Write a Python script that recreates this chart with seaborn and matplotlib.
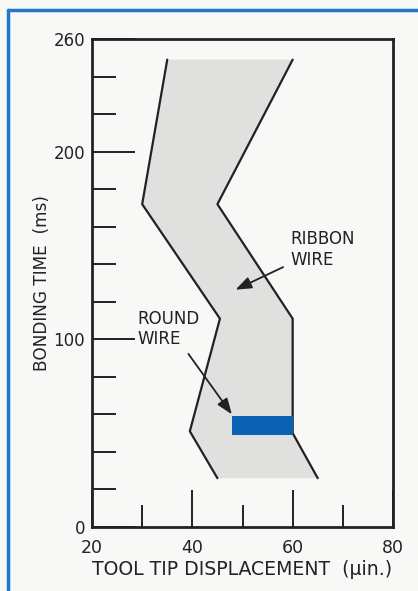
import matplotlib
matplotlib.use("Agg")
import matplotlib.pyplot as plt
from matplotlib.lines import Line2D
from matplotlib.patches import Rectangle
import seaborn as sns
import pandas as pd

# Ribbon-wire window boundaries (tool tip displacement in µin., bonding time in ms)
left_x = [35, 30, 45.5, 39.5, 45]
left_y = [249, 172, 111, 51, 26]
right_x = [60, 45, 60, 60, 65]
right_y = [249, 172, 111, 50, 26]

# Round-wire window
round_x = [48, 60]
round_y = [49, 59]

x_major = [20, 40, 60, 80]
x_minor = [30, 50, 70]
y_major = [0, 100, 200, 260]
y_minor = [20, 40, 60, 80, 120, 140, 160, 180, 220, 240]

sns.set_theme(style="white")
plt.rcParams["font.family"] = ["DejaVu Sans"]

BG = "#f8f8f6"
INK = "#222222"
BLUE = "#1f78c8"
FS = 12

fig = plt.figure(figsize=(4.18, 5.91), dpi=100, facecolor=BG)
ax = fig.add_axes([0.2201, 0.1083, 0.7201, 0.8257], facecolor=BG)

# shaded region
poly_x = left_x + right_x[::-1]
poly_y = left_y + right_y[::-1]
ax.fill(poly_x, poly_y, color="#e0e0df", lw=0, zorder=1)

# boundary lines
left_df = pd.DataFrame({"x": left_x, "y": left_y})
right_df = pd.DataFrame({"x": right_x, "y": right_y})
for df in (left_df, right_df):
    sns.lineplot(data=df, x="x", y="y", sort=False, estimator=None, ax=ax,
                 color=INK, lw=1.6, zorder=3)

# round wire block
ax.add_patch(Rectangle((round_x[0], round_y[0]), round_x[1] - round_x[0],
                       round_y[1] - round_y[0], facecolor="#0b62b4",
                       edgecolor="none", zorder=4))

ax.set_xlim(20, 80)
ax.set_ylim(0, 260)

ax.set_xticks(x_major)
ax.set_xticks(x_minor, minor=True)
ax.set_yticks(y_major)
ax.set_yticks(y_minor, minor=True)
ax.set_xticklabels([str(v) for v in x_major])
ax.set_yticklabels([str(v) for v in y_major])

ax.tick_params(axis="y", which="major", direction="in", length=31, width=1.4,
               color=INK, labelsize=FS, labelcolor=INK, pad=5)
ax.tick_params(axis="y", which="minor", direction="in", length=17, width=1.4,
               color=INK, left=True)
ax.tick_params(axis="x", which="major", direction="in", length=27, width=1.4,
               color=INK, labelsize=12.5, labelcolor=INK, pad=9)
ax.tick_params(axis="x", which="minor", direction="in", length=16, width=1.4,
               color=INK, bottom=True)
ax.tick_params(left=True, bottom=True)

for s in ax.spines.values():
    s.set_color(INK)
    s.set_linewidth(2)

ax.set_xlabel("TOOL TIP DISPLACEMENT  (\u03bcin.)", fontsize=13.6, color=INK,
              labelpad=2)
ax.set_ylabel("BONDING TIME  (ms)", fontsize=12.2, color=INK, labelpad=2)

# callouts
arrow = dict(arrowstyle="-|>,head_length=0.8,head_width=0.3", color=INK, lw=1.3)
ax.annotate("", xy=(48.1, 125.8), xytext=(58.6, 139.1), arrowprops=arrow,
            zorder=5)
ax.text(59.5, 148, "RIBBON\nWIRE", fontsize=FS, color=INK, ha="left",
        va="center", linespacing=1.2)
ax.annotate("", xy=(48.2, 58.8), xytext=(38.9, 93.4), arrowprops=arrow,
            zorder=5)
ax.text(29.1, 105.5, "ROUND\nWIRE", fontsize=FS, color=INK, ha="left",
        va="center", linespacing=1.2)

# blue frame along top and left edges
fig.add_artist(Line2D([7.5 / 418, 1], [1 - 10 / 591, 1 - 10 / 591],
                      transform=fig.transFigure, color=BLUE, lw=2.5))
fig.add_artist(Line2D([7.5 / 418, 7.5 / 418], [0, 1 - 10 / 591],
                      transform=fig.transFigure, color=BLUE, lw=2.5))

fig.savefig("out.png", dpi=100, facecolor=BG)
